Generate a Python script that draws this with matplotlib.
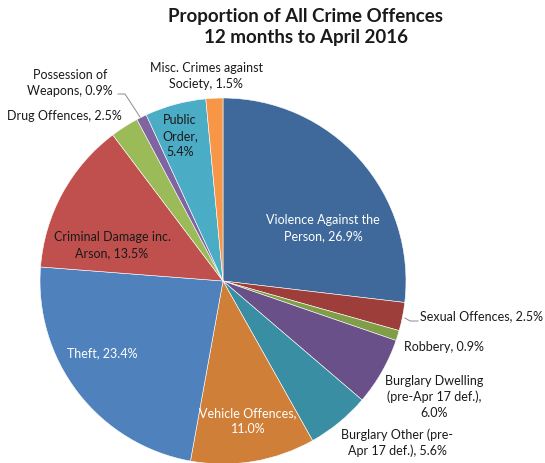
import matplotlib.pyplot as plt

plt.rcParams['font.family'] = ['Lato', 'DejaVu Sans']

W, H = 545, 463

categories = ["Violence Against the\nPerson", "Sexual Offences", "Robbery",
              "Burglary Dwelling\n(pre-Apr 17 def.)", "Burglary Other (pre-\nApr 17 def.)",
              "Vehicle Offences", "Theft", "Criminal Damage inc.\nArson",
              "Drug Offences", "Possession of\nWeapons", "Public\nOrder",
              "Misc. Crimes against\nSociety"]
values = [26.9, 2.5, 0.9, 6.0, 5.6, 11.0, 23.4, 13.5, 2.5, 0.9, 5.4, 1.5]
colors = ['#3E699A', '#9E3E3B', '#7F9E47', '#6A5088', '#3A8EA3', '#D07F38',
          '#4F81BD', '#C0504D', '#9BBB59', '#8064A2', '#4BACC6', '#F79646']
# separator between name and value: ", " or ",\n"
seps = [", ", ", ", ", ", ",\n", ", ", ",\n", ", ", ", ", ", ", ", ", ",\n", ", "]

# label centres in pixel coords (top-left origin) and text colours
label_pos = [(323, 228), (481, 316), (444, 347), (434, 397), (397, 443), (248, 421),
             (102, 353), (112, 245), (64, 116), (70, 83), (180, 136), (206, 76)]
label_col = ['white', '#1a1a1a', '#1a1a1a', '#1a1a1a', '#1a1a1a', 'white',
             'white', '#1a1a1a', '#1a1a1a', '#1a1a1a', '#1a1a1a', '#1a1a1a']

fig = plt.figure(figsize=(W / 100, H / 100), dpi=100)
ax = fig.add_axes([0, 0, 1, 1])

ax.pie(values, colors=colors, startangle=90, counterclock=False,
       center=(223, H - 281), radius=183,
       wedgeprops=dict(edgecolor='white', linewidth=0.4))
ax.set_xlim(0, W)
ax.set_ylim(0, H)
ax.set_aspect('equal')
ax.axis('off')

for cat, val, sep, (x, y), c in zip(categories, values, seps, label_pos, label_col):
    txt = cat + sep + f"{val:.1f}%"
    ax.text(x, H - y, txt, ha='center', va='center', fontsize=9,
            color=c, linespacing=1.35)

# leader lines
ax.plot([118, 125, 140], [H - 94, H - 94, H - 117], color='#8c8c8c', lw=0.7)
ax.plot([405, 410, 418], [H - 318, H - 321, H - 321], color='#8c8c8c', lw=0.7)

ax.text(306, H - 27, "Proportion of All Crime Offences\n12 months to April 2016",
        ha='center', va='center', fontsize=13.5, fontweight='bold',
        color='#1a1a1a', linespacing=1.3)

fig.savefig('out.png', dpi=100)
